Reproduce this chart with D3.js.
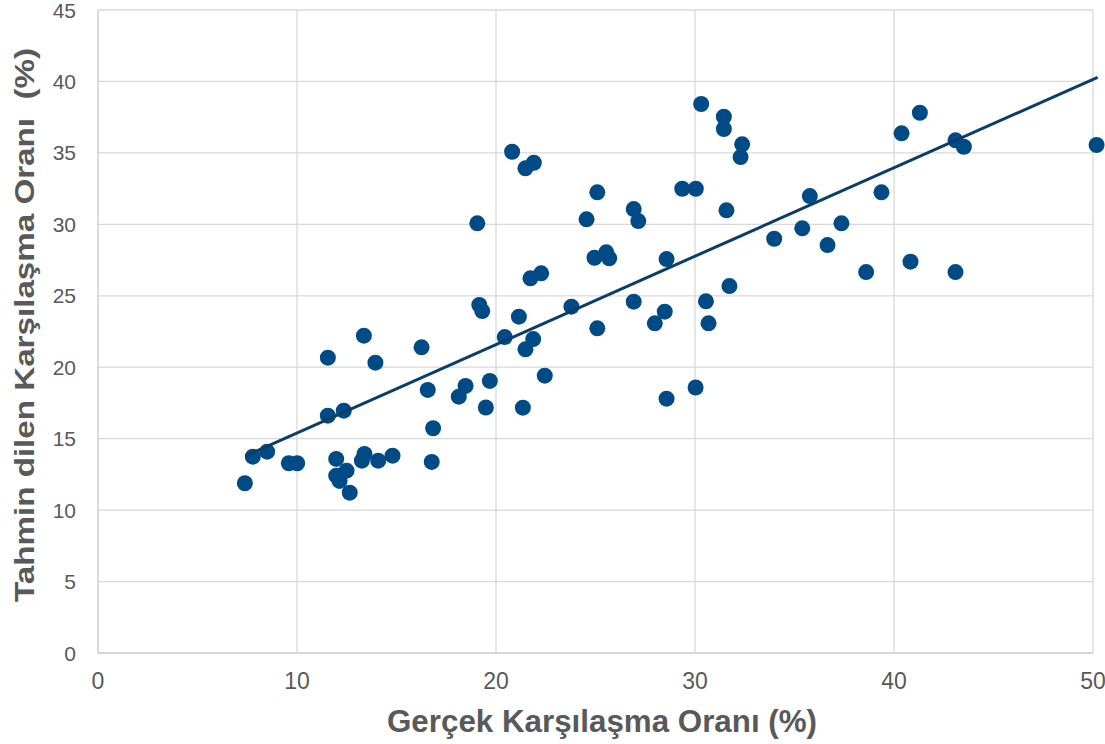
<!DOCTYPE html>
<html>
<head>
<meta charset="utf-8">
<script src="https://cdn.jsdelivr.net/npm/d3@7"></script>
<style>
  body { margin: 0; background: #fff; }
  svg text { font-family: "Liberation Sans", Arial, sans-serif; fill: #595959; }
</style>
</head>
<body>
<svg id="chart" width="1105" height="744"></svg>
<script>
var actualRate = [7.38, 7.78, 8.50, 9.59, 10.01, 11.55, 11.55, 12.35, 11.97, 11.97,
  12.14, 12.49, 12.65, 13.36, 13.26, 13.39, 13.94, 14.08, 14.80, 16.26,
  16.57, 16.84, 16.77, 18.13, 18.47, 19.06, 19.16, 19.31, 19.49, 19.69,
  20.44, 20.81, 21.15, 21.35, 21.48, 21.90, 21.48, 21.73, 21.87, 22.27,
  22.45, 23.79, 24.55, 25.09, 24.95, 25.09, 25.54, 25.69, 26.92, 27.15,
  26.92, 27.98, 28.57, 28.48, 28.57, 29.36, 30.04, 30.03, 30.31, 30.55,
  30.68, 31.45, 31.45, 31.58, 31.73, 32.37, 32.29, 33.98, 35.39, 35.77,
  36.66, 37.36, 38.60, 39.37, 40.38, 40.83, 41.30, 43.09, 43.09, 43.51, 50.18];
var predictedRate = [11.88, 13.74, 14.09, 13.28, 13.28, 20.67, 16.61, 16.96, 13.58, 12.41,
  12.04, 12.76, 11.22, 22.21, 13.46, 13.93, 20.32, 13.46, 13.81, 21.39,
  18.41, 15.73, 13.37, 17.94, 18.69, 30.07, 24.36, 23.93, 17.18, 19.04,
  22.11, 35.08, 23.54, 17.17, 33.92, 34.31, 21.25, 26.22, 21.97, 26.57,
  19.41, 24.24, 30.35, 32.24, 27.66, 22.72, 28.04, 27.62, 31.07, 30.23,
  24.59, 23.07, 27.57, 23.89, 17.80, 32.49, 32.49, 18.58, 38.42, 24.61,
  23.07, 37.53, 36.67, 30.98, 25.68, 35.60, 34.71, 28.99, 29.72, 31.98,
  28.55, 30.07, 26.66, 32.24, 36.37, 27.39, 37.81, 35.88, 26.66, 35.43, 35.55];

// linear trend line end points
var trendX = [7.41, 50.23];
var trendY = [13.79, 40.29];

var xTicks = [0, 10, 20, 30, 40, 50];
var yTicks = [0, 5, 10, 15, 20, 25, 30, 35, 40, 45];

var xTitle = "Gerçek Karşılaşma Oranı (%)";
var yTitle = "Tahmin dilen Karşılaşma Oranı\u00a0\u00a0(%)";

var plotLeft = 98, plotRight = 1093, plotTop = 10, plotBottom = 653;

var svg = d3.select("#chart");

var x = d3.scaleLinear().domain([0, 50]).range([plotLeft, plotRight]);
var y = d3.scaleLinear().domain([0, 45]).range([plotBottom, plotTop]);

// grid
svg.append("g")
    .selectAll("line")
    .data(yTicks)
  .enter().append("line")
    .attr("x1", plotLeft).attr("x2", plotRight)
    .attr("y1", d => y(d)).attr("y2", d => y(d))
    .attr("stroke", d => d === 0 ? "#c8c8c8" : "#d9d9d9")
    .attr("stroke-width", 1.3);

svg.append("g")
    .selectAll("line")
    .data(xTicks)
  .enter().append("line")
    .attr("x1", d => x(d)).attr("x2", d => x(d))
    .attr("y1", plotTop).attr("y2", plotBottom)
    .attr("stroke", d => d === 0 ? "#c8c8c8" : "#d9d9d9")
    .attr("stroke-width", 1.3);

// tick labels
svg.append("g")
    .selectAll("text")
    .data(yTicks)
  .enter().append("text")
    .attr("x", 76)
    .attr("y", d => y(d) + 7.5)
    .attr("text-anchor", "end")
    .style("font-size", "21px")
    .text(d => d);

svg.append("g")
    .selectAll("text")
    .data(xTicks)
  .enter().append("text")
    .attr("x", d => x(d))
    .attr("y", 689)
    .attr("text-anchor", "middle")
    .style("font-size", "23px")
    .text(d => d);

// points
svg.append("g")
    .selectAll("circle")
    .data(actualRate)
  .enter().append("circle")
    .attr("cx", d => x(d))
    .attr("cy", (d, i) => y(predictedRate[i]))
    .attr("r", 8)
    .attr("fill", "#004a85");

// trend line
svg.append("line")
    .attr("x1", x(trendX[0])).attr("y1", y(trendY[0]))
    .attr("x2", x(trendX[1])).attr("y2", y(trendY[1]))
    .attr("stroke", "#0b3d68")
    .attr("stroke-width", 3);

// axis titles
svg.append("text")
    .attr("x", 387)
    .attr("y", 732)
    .attr("textLength", 430)
    .attr("lengthAdjust", "spacingAndGlyphs")
    .style("font-size", "31px")
    .style("font-weight", "bold")
    .text(xTitle);

svg.append("text")
    .attr("transform", "translate(34,602) rotate(-90)")
    .attr("textLength", 554)
    .attr("lengthAdjust", "spacingAndGlyphs")
    .style("font-size", "28px")
    .style("font-weight", "bold")
    .text(yTitle);
</script>
</body>
</html>
